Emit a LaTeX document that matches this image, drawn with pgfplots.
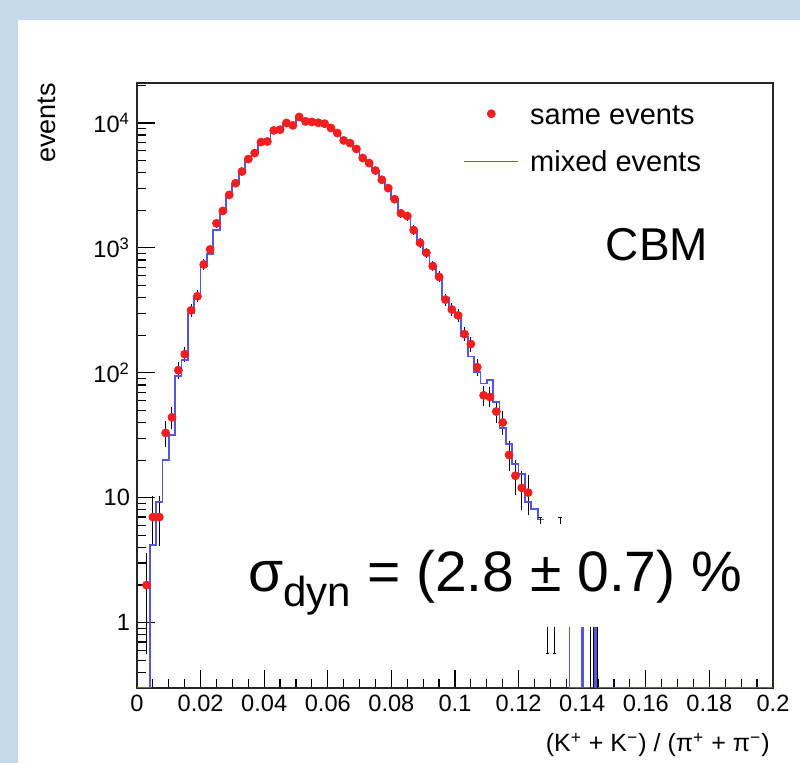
\documentclass[border=0pt]{standalone}
\usepackage{fontspec}
\setmainfont{Liberation Sans}
\usepackage{pgfplots}
\pgfplotsset{compat=1.18}
\usepackage{pgfplotstable}
\definecolor{bgblue}{RGB}{197,216,236}
\definecolor{rootred}{RGB}{245,30,30}
\definecolor{rootblue}{RGB}{85,85,228}
\pgfplotsset{
  dotlegend/.style={legend image code/.code={\draw[mark repeat=2,mark phase=2,##1] plot coordinates {(0pt,0pt) (13.5pt,0pt) (27pt,0pt)};}},
  linelegend/.style={legend image code/.code={\draw[##1] (0pt,0pt) -- (27pt,0pt);}},
}

\pgfplotstableread{
x y ey
0.003 2 1.41
0.005 7 2.65
0.007 7 2.65
0.009 33 5.74
0.011 44 6.63
0.013 105 10.2
0.015 141 11.9
0.017 316 17.8
0.019 410 20.2
0.021 737 27.1
0.023 972 31.2
0.025 1574 39.7
0.027 1976 44.5
0.029 2656 51.5
0.031 3296 57.4
0.033 4088 63.9
0.035 5140 71.7
0.037 5740 75.8
0.039 7036 83.9
0.041 7110 84.3
0.043 8720 93.4
0.045 8840 94.0
0.047 10000 100.0
0.049 9570 97.8
0.051 11170 105.7
0.053 10300 101.5
0.055 10190 100.9
0.057 10050 100.2
0.059 9870 99.3
0.061 9120 95.5
0.063 8310 91.2
0.065 7250 85.1
0.067 6900 83.1
0.069 6200 78.7
0.071 5240 72.4
0.073 4775 69.1
0.075 4160 64.5
0.077 3510 59.2
0.079 3010 54.9
0.081 2455 49.5
0.083 1893 43.5
0.085 1800 42.4
0.087 1390 37.3
0.089 1099 33.2
0.091 914 30.2
0.093 715 26.7
0.095 586 24.2
0.097 386 19.6
0.099 321 17.9
0.101 288 17.0
0.103 204 14.3
0.105 170 13.0
0.107 111 10.5
0.109 66 8.1
0.111 64 8.0
0.113 49 7.0
0.115 40 6.3
0.117 22 4.7
0.119 15 3.9
0.121 12 3.5
0.123 11 3.3
}\samedata

\pgfplotstableread{
x y
0.000 0.3
0.002 0.3
0.004 4.2
0.006 9.3
0.008 20
0.010 32
0.012 95
0.014 126
0.016 298
0.018 395
0.020 720
0.022 900
0.024 1390
0.026 1950
0.028 2600
0.030 3250
0.032 4000
0.034 5100
0.036 5750
0.038 6950
0.040 7150
0.042 8600
0.044 8900
0.046 9900
0.048 9700
0.050 10900
0.052 10300
0.054 10150
0.056 10000
0.058 9800
0.060 9100
0.062 8250
0.064 7300
0.066 6850
0.068 6150
0.070 5250
0.072 4700
0.074 4150
0.076 3500
0.078 2950
0.080 2450
0.082 1900
0.084 1780
0.086 1400
0.088 1090
0.090 900
0.092 720
0.094 580
0.096 395
0.098 320
0.100 280
0.102 195
0.104 135
0.106 101
0.108 82
0.110 88
0.112 58
0.114 36
0.116 27
0.118 18.6
0.120 15.5
0.122 9.3
0.124 8.1
0.126 6.7
0.128 6.7
0.129 nan
0.136 0.3
0.200 0.3
}\mixeddata

\begin{document}
\begin{tikzpicture}
\useasboundingbox (0pt,0pt) rectangle (400pt,381.5pt);
\fill[bgblue] (0pt,0pt) rectangle (400pt,381.5pt);
\fill[white] (9pt,0pt) rectangle (400pt,371.5pt);
\begin{axis}[
  at={(68.5pt,37.5pt)}, anchor=south west,
  scale only axis, width=318pt, height=302.5pt,
  xmin=0, xmax=0.2, ymode=log, ymin=0.3, ymax=20900,
  unbounded coords=jump,
  axis line style={black!85, line width=0.7pt},
  tick style={black, line width=0.6pt},
  tick align=inside, xtick pos=bottom, ytick pos=left,
  major tick length=9pt, minor tick length=4.5pt,
  xtick={0,0.02,0.04,0.06,0.08,0.1,0.12,0.14,0.16,0.18,0.2},
  xticklabels={0,0.02,0.04,0.06,0.08,0.1,0.12,0.14,0.16,0.18,0.2},
  minor x tick num=3,
  ytick={1,10,100,1000,10000},
  yticklabels={1,10,10\textsuperscript{2},10\textsuperscript{3},10\textsuperscript{4}},
  minor ytick={0.3,0.4,0.5,0.6,0.7,0.8,0.9,2,3,4,5,6,7,8,9,20,30,40,50,60,70,80,90,200,300,400,500,600,700,800,900,2000,3000,4000,5000,6000,7000,8000,9000,20000},
  ticklabel style={font=\fontsize{11.8}{13}\selectfont},
  legend style={draw=none, fill=none, at={(0.5126,0.967)}, anchor=north west,
    inner sep=0pt, font=\fontsize{14.5}{17}\selectfont, row sep=13.5pt, column sep=5.5pt,
    nodes={inner sep=0pt, text height=10.4pt, text depth=0pt}},
  legend cell align=left,
]
\addplot[only marks, mark=*, mark size=2pt, color=rootred,
  mark options={draw=rootred, fill=rootred}, dotlegend,
  error bars/.cd, y dir=both, y explicit,
  error bar style={black, line width=0.5pt},
  error mark options={black, line width=0.5pt, mark size=1.6pt}]
  table[x=x, y=y, y error=ey]{\samedata};
\addlegendentry{same events}
\addplot[const plot, rootblue, line width=0.9pt, mark=none, linelegend]
  table[x=x, y=y]{\mixeddata};
\addlegendentry{mixed events}
\addplot[rootblue, line width=0.8pt, forget plot] coordinates {
  (0.1360,0.3) (0.1360,0.93) (0.137,nan)
  (0.1399,0.3) (0.1399,0.93) (0.1400,nan)
  (0.1403,0.3) (0.1403,0.93) (0.1404,nan)
  (0.1441,0.3) (0.1441,0.93) (0.1442,nan)
  (0.1445,0.3) (0.1445,0.93)};
\addplot[black, line width=0.5pt, forget plot] coordinates {
  (0.1427,0.3) (0.1427,0.93) (0.1428,nan)
  (0.1437,0.3) (0.1437,0.93) (0.1438,nan)
  (0.1448,0.3) (0.1448,0.93) (0.1449,nan)
  (0.1290,0.93) (0.1290,0.57) (0.1291,nan)
  (0.1285,0.57) (0.1295,0.57) (0.1296,nan)
  (0.1313,0.93) (0.1313,0.57) (0.1314,nan)
  (0.1308,0.57) (0.1318,0.57) (0.1319,nan)
  (0.1268,6.2) (0.1268,6.9) (0.1269,nan)
  (0.1261,6.9) (0.1275,6.9) (0.1276,nan)
  (0.1331,6.2) (0.1331,6.9) (0.1332,nan)
  (0.1324,6.9) (0.1338,6.9)};
\end{axis}
\node[anchor=center, inner sep=0pt, font=\fontsize{23}{27}\selectfont] at (328.5pt,259pt) {CBM};
\node[anchor=base west, inner sep=0pt, font=\fontsize{28.5}{34}\selectfont] at (124pt,85.5pt)
  {σ\raisebox{-7.5pt}{\fontsize{21}{25}\selectfont dyn} = (2.8 ± 0.7) \%};
\node[anchor=base east, inner sep=0pt, font=\fontsize{12.5}{14}\selectfont] at (385pt,5.5pt)
  {(K\textsuperscript{+} + K\textsuperscript{−}) / (π\textsuperscript{+} + π\textsuperscript{−})};
\node[rotate=90, anchor=east, inner sep=0pt, font=\fontsize{13.5}{15}\selectfont] at (23.5pt,340pt) {events};
\end{tikzpicture}
\end{document}
